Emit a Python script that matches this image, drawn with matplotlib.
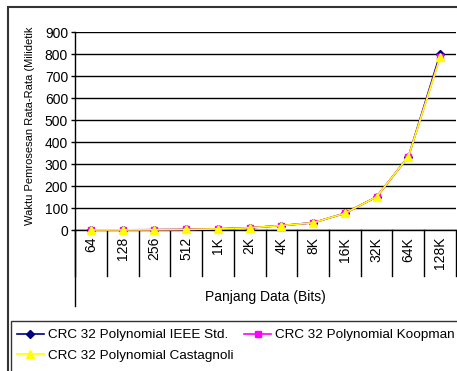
import matplotlib
matplotlib.use("Agg")
import matplotlib.pyplot as plt
from matplotlib.patches import Rectangle
import matplotlib.transforms as mtransforms

plt.rcParams['font.family'] = ['Liberation Sans', 'DejaVu Sans']

sizes = ['64', '128', '256', '512', '1K', '2K', '4K', '8K', '16K', '32K', '64K', '128K']
ieee = [0.3, 0.6, 1.2, 2.5, 5, 10, 20, 33, 76, 151, 333, 800]
koopman = [0.3, 0.6, 1.2, 2.5, 5, 10, 20, 33, 76, 151, 333, 787]
castagnoli = [0.3, 0.6, 1.2, 2.5, 5, 10, 20, 33, 76, 151, 333, 785]
yticks = [0, 100, 200, 300, 400, 500, 600, 700, 800, 900]

W, H = 457, 371
fig = plt.figure(figsize=(W / 100, H / 100), dpi=100)

# outer chart frame and legend box (run off the right/bottom edge like the source)
fig.patches.append(Rectangle((8 / W, -0.1), 1.2, 1 - 7 / H + 0.1, transform=fig.transFigure,
                             fill=False, edgecolor='#333333', linewidth=1.5))
fig.patches.append(Rectangle((11 / W, -0.1), 1.2, 1 - 321 / H + 0.1, transform=fig.transFigure,
                             fill=False, edgecolor='#333333', linewidth=1.0))

ax = fig.add_axes([75 / W, (H - 230) / H, 381 / W, 198 / H])
x = list(range(len(sizes)))

ax.plot(x, ieee, color='#000080', marker='D', markersize=4, linewidth=1.2,
        label='CRC 32 Polynomial IEEE Std.', clip_on=False, zorder=3)
ax.plot(x, koopman, color='#FF00FF', marker='s', markersize=5, linewidth=1.2,
        label='CRC 32 Polynomial Koopman', clip_on=False, zorder=4)
ax.plot(x, castagnoli, color='#FFFF00', marker='^', markersize=6, linewidth=1.2,
        label='CRC 32 Polynomial Castagnoli', clip_on=False, zorder=5)

ax.set_xlim(-0.5, len(sizes) - 0.5)
ax.set_ylim(0, 900)
ax.set_yticks(yticks)
ax.set_yticklabels([str(v) for v in yticks], fontsize=10)
ax.tick_params(axis='y', length=3, width=1, pad=2, color='black')
ax.yaxis.grid(True, color='black', linewidth=1)
ax.set_axisbelow(True)

ax.set_xticks(x)
ax.set_xticklabels(sizes, rotation=90, fontsize=10, va='top')
ax.tick_params(axis='x', length=0, pad=5)

for s in ['top', 'right']:
    ax.spines[s].set_visible(False)
ax.spines['left'].set_linewidth(1)
ax.spines['bottom'].set_linewidth(1)

# category separators below the axis and extended left axis line
trans = mtransforms.blended_transform_factory(ax.transData, ax.transAxes)
for k in range(len(sizes) + 1):
    ax.plot([k - 0.5, k - 0.5], [0, -46 / 198], color='black', linewidth=1,
            transform=trans, clip_on=False)
ax.plot([-0.5, -0.5], [0, -76 / 198], color='black', linewidth=1,
        transform=trans, clip_on=False)

fig.text((75 + 456) / 2 / W, 1 - 297 / H, 'Panjang Data (Bits)', fontsize=10,
         ha='center', va='center')
fig.text(30 / W, 1 - 126 / H, 'Waktu Pemrosesan Rata-Rata (Milidetik', fontsize=8,
         rotation=90, ha='center', va='center')

h, l = ax.get_legend_handles_labels()
order = [0, 2, 1]
fig.legend([h[i] for i in order], [l[i] for i in order], ncol=2, frameon=False,
           loc='upper left', bbox_to_anchor=(17 / W, 1 - 329 / H), borderaxespad=0,
           borderpad=0, fontsize=9.7, handlelength=2.0, handletextpad=0.3,
           columnspacing=0.8, labelspacing=0.6)

fig.savefig('out.png', dpi=100)
